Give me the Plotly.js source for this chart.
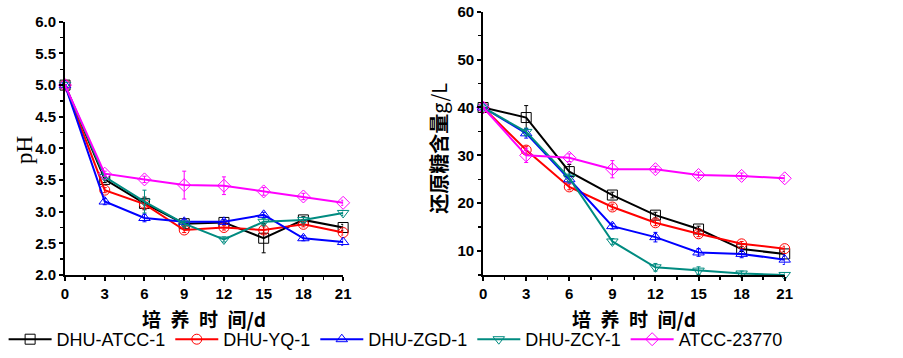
<!DOCTYPE html>
<html><head><meta charset="utf-8">
<script src="https://cdn.plot.ly/plotly-3.0.1.min.js"></script>
<style>html,body{margin:0;padding:0;background:#fff}#chart{width:903px;height:358px}
</style>
</head><body><div id="chart"></div>
<script>
const days = [0, 3, 6, 9, 12, 15, 18, 21];
const seriesNames = ['DHU-ATCC-1', 'DHU-YQ-1', 'DHU-ZGD-1', 'DHU-ZCY-1', 'ATCC-23770'];
const phTicks = [2.0, 2.5, 3.0, 3.5, 4.0, 4.5, 5.0, 5.5, 6.0];
const sugarTicks = [10, 20, 30, 40, 50, 60];
const xTitleText = '培\u2002养\u2002时\u2002间/d';
const phTitleText = 'pH';
const sugarTitleText = '<b>还原糖含量</b>g/L';
// pH
const phATCC1 = [5.0, 3.51, 3.13, 2.81, 2.83, 2.58, 2.87, 2.75];
const phYQ1   = [5.0, 3.34, 3.12, 2.71, 2.75, 2.71, 2.80, 2.67];
const phZGD1  = [5.0, 3.16, 2.90, 2.84, 2.84, 2.95, 2.58, 2.52];
const phZCY1  = [5.0, 3.55, 3.16, 2.81, 2.56, 2.84, 2.87, 2.98];
const ph23770 = [5.0, 3.60, 3.51, 3.42, 3.41, 3.32, 3.24, 3.14];
const phErrATCC1 = [0, 0.05, 0.10, 0.04, 0.04, 0.23, 0.05, 0.05];
const phErrYQ1   = [0, 0.04, 0.05, 0.04, 0.04, 0.05, 0.04, 0.04];
const phErrZGD1  = [0, 0.05, 0.06, 0.04, 0.04, 0.04, 0.04, 0.05];
const phErrZCY1  = [0, 0.04, 0.18, 0.04, 0.04, 0.05, 0.04, 0.04];
const phErr23770 = [0, 0.04, 0.05, 0.22, 0.14, 0.06, 0.05, 0.04];
// reducing sugar g/L
const sugATCC1 = [40, 37.9, 26.6, 21.7, 17.5, 14.6, 10.4, 9.4];
const sugYQ1   = [40, 31.1, 23.4, 19.2, 15.9, 13.6, 11.5, 10.5];
const sugZGD1  = [40, 34.6, 25.0, 15.2, 12.9, 9.7, 9.4, 8.2];
const sugZCY1  = [40, 34.9, 25.3, 12.0, 6.6, 5.9, 5.3, 5.0];
const sug23770 = [40, 30.0, 29.5, 27.1, 27.1, 25.9, 25.7, 25.2];
const sugErrATCC1 = [0, 2.5, 1.5, 0.6, 0.6, 0.6, 0.5, 0.5];
const sugErrYQ1   = [0, 0.8, 0.6, 0.6, 0.6, 0.6, 0.5, 0.5];
const sugErrZGD1  = [0, 1.0, 0.8, 0.6, 1.0, 0.8, 0.8, 1.0];
const sugErrZCY1  = [0, 0.8, 0.8, 0.6, 0.8, 0.8, 0.5, 0.5];
const sugErr23770 = [0, 1.5, 0.8, 1.8, 0.6, 0.6, 0.6, 0.6];

const colors = ['#000000', '#ff0000', '#0000ff', '#008b80', '#ff00ff'];
const symbols = ['square-open', 'circle-open', 'triangle-up-open', 'triangle-down-open', 'diamond-open'];
const phData = [phATCC1, phYQ1, phZGD1, phZCY1, ph23770];
const phErr = [phErrATCC1, phErrYQ1, phErrZGD1, phErrZCY1, phErr23770];
const sugData = [sugATCC1, sugYQ1, sugZGD1, sugZCY1, sug23770];
const sugErr = [sugErrATCC1, sugErrYQ1, sugErrZGD1, sugErrZCY1, sugErr23770];

const traces = [];
seriesNames.forEach((n, i) => {
  traces.push({x: days, y: phData[i], name: n, type: 'scatter', mode: 'lines+markers',
    xaxis: 'x', yaxis: 'y', cliponaxis: false,
    line: {color: colors[i], width: 2},
    marker: {symbol: symbols[i], size: 10, color: colors[i], line: {width: 1}},
    error_y: {type: 'data', array: phErr[i], visible: true, color: colors[i], thickness: 1, width: 2},
    legendrank: i});
});
seriesNames.forEach((n, i) => {
  traces.push({x: days, y: sugData[i], name: n, type: 'scatter', mode: 'lines+markers',
    xaxis: 'x2', yaxis: 'y2', showlegend: false, cliponaxis: false,
    line: {color: colors[i], width: 2},
    marker: {symbol: symbols[i], size: 10, color: colors[i], line: {width: 1}},
    error_y: {type: 'data', array: sugErr[i], visible: true, color: colors[i], thickness: 1, width: 2}});
});

function mkAxis(extra) {
  return Object.assign({
    showline: true, linewidth: 2, linecolor: '#000', ticks: 'outside', ticklen: 4, tickwidth: 2,
    tickcolor: '#000', showgrid: false, zeroline: false, automargin: false, fixedrange: true,
    tickmode: 'array',
    tickfont: {family: 'Arial', size: 15, color: '#000', weight: 700}
  }, extra);
}
const cjkTitle = {family: 'Noto Sans CJK SC', size: 19, color: '#000', weight: 'bold'};
const xMinor = {ticks: 'outside', ticklen: 3, tickwidth: 1.5, dtick: 1.5, tick0: 0, tickcolor: '#000'};

const layout = {
  width: 903, height: 358,
  margin: {l: 0, r: 0, t: 0, b: 0},
  paper_bgcolor: '#fff', plot_bgcolor: '#fff',
  font: {family: 'Arial', color: '#000', size: 15},
  showlegend: true,
  legend: {orientation: 'h', x: 0.004, y: 0.0, xanchor: 'left', yanchor: 'bottom',
    font: {family: 'Arial', size: 18, color: '#000', weight: 400},
    itemwidth: 43, tracegroupgap: 0},
  xaxis: mkAxis({domain: [0.072, 0.380], anchor: 'y', range: [0, 21],
    tickvals: days, ticktext: days.map(String), minor: xMinor}),
  yaxis: mkAxis({domain: [0.232, 0.939], anchor: 'x', range: [2, 6],
    tickvals: phTicks, ticktext: phTicks.map(v => v.toFixed(1)),
    minor: {ticks: 'outside', ticklen: 3, tickwidth: 1.5, dtick: 0.25, tickcolor: '#000'}}),
  xaxis2: mkAxis({domain: [0.535, 0.869], anchor: 'y2', range: [0, 21],
    tickvals: days, ticktext: days.map(String), minor: xMinor}),
  yaxis2: mkAxis({domain: [0.232, 0.967], anchor: 'x2', range: [5, 60],
    tickvals: sugarTicks, ticktext: sugarTicks.map(String),
    minor: {ticks: 'outside', ticklen: 3, tickwidth: 1.5, dtick: 5, tickcolor: '#000'}}),
  annotations: [
    {xref: 'paper', yref: 'paper', x: 0.2259, y: 0.111, xanchor: 'center', yanchor: 'middle',
     showarrow: false, text: xTitleText, font: cjkTitle},
    {xref: 'paper', yref: 'paper', x: 0.7021, y: 0.111, xanchor: 'center', yanchor: 'middle',
     showarrow: false, text: xTitleText, font: cjkTitle},
    {xref: 'paper', yref: 'paper', x: 0.0266, y: 0.581, xanchor: 'center', yanchor: 'middle',
     showarrow: false, textangle: -90, text: phTitleText,
     font: {family: 'Liberation Serif', size: 23, color: '#000', weight: 400}},
    {xref: 'paper', yref: 'paper', x: 0.4860, y: 0.5866, xanchor: 'center', yanchor: 'middle',
     showarrow: false, textangle: -90, text: sugarTitleText,
     font: {family: 'Noto Sans CJK SC', size: 20, color: '#000', weight: 400}}
  ]
};
Plotly.newPlot('chart', traces, layout, {staticPlot: true});
</script></body></html>
